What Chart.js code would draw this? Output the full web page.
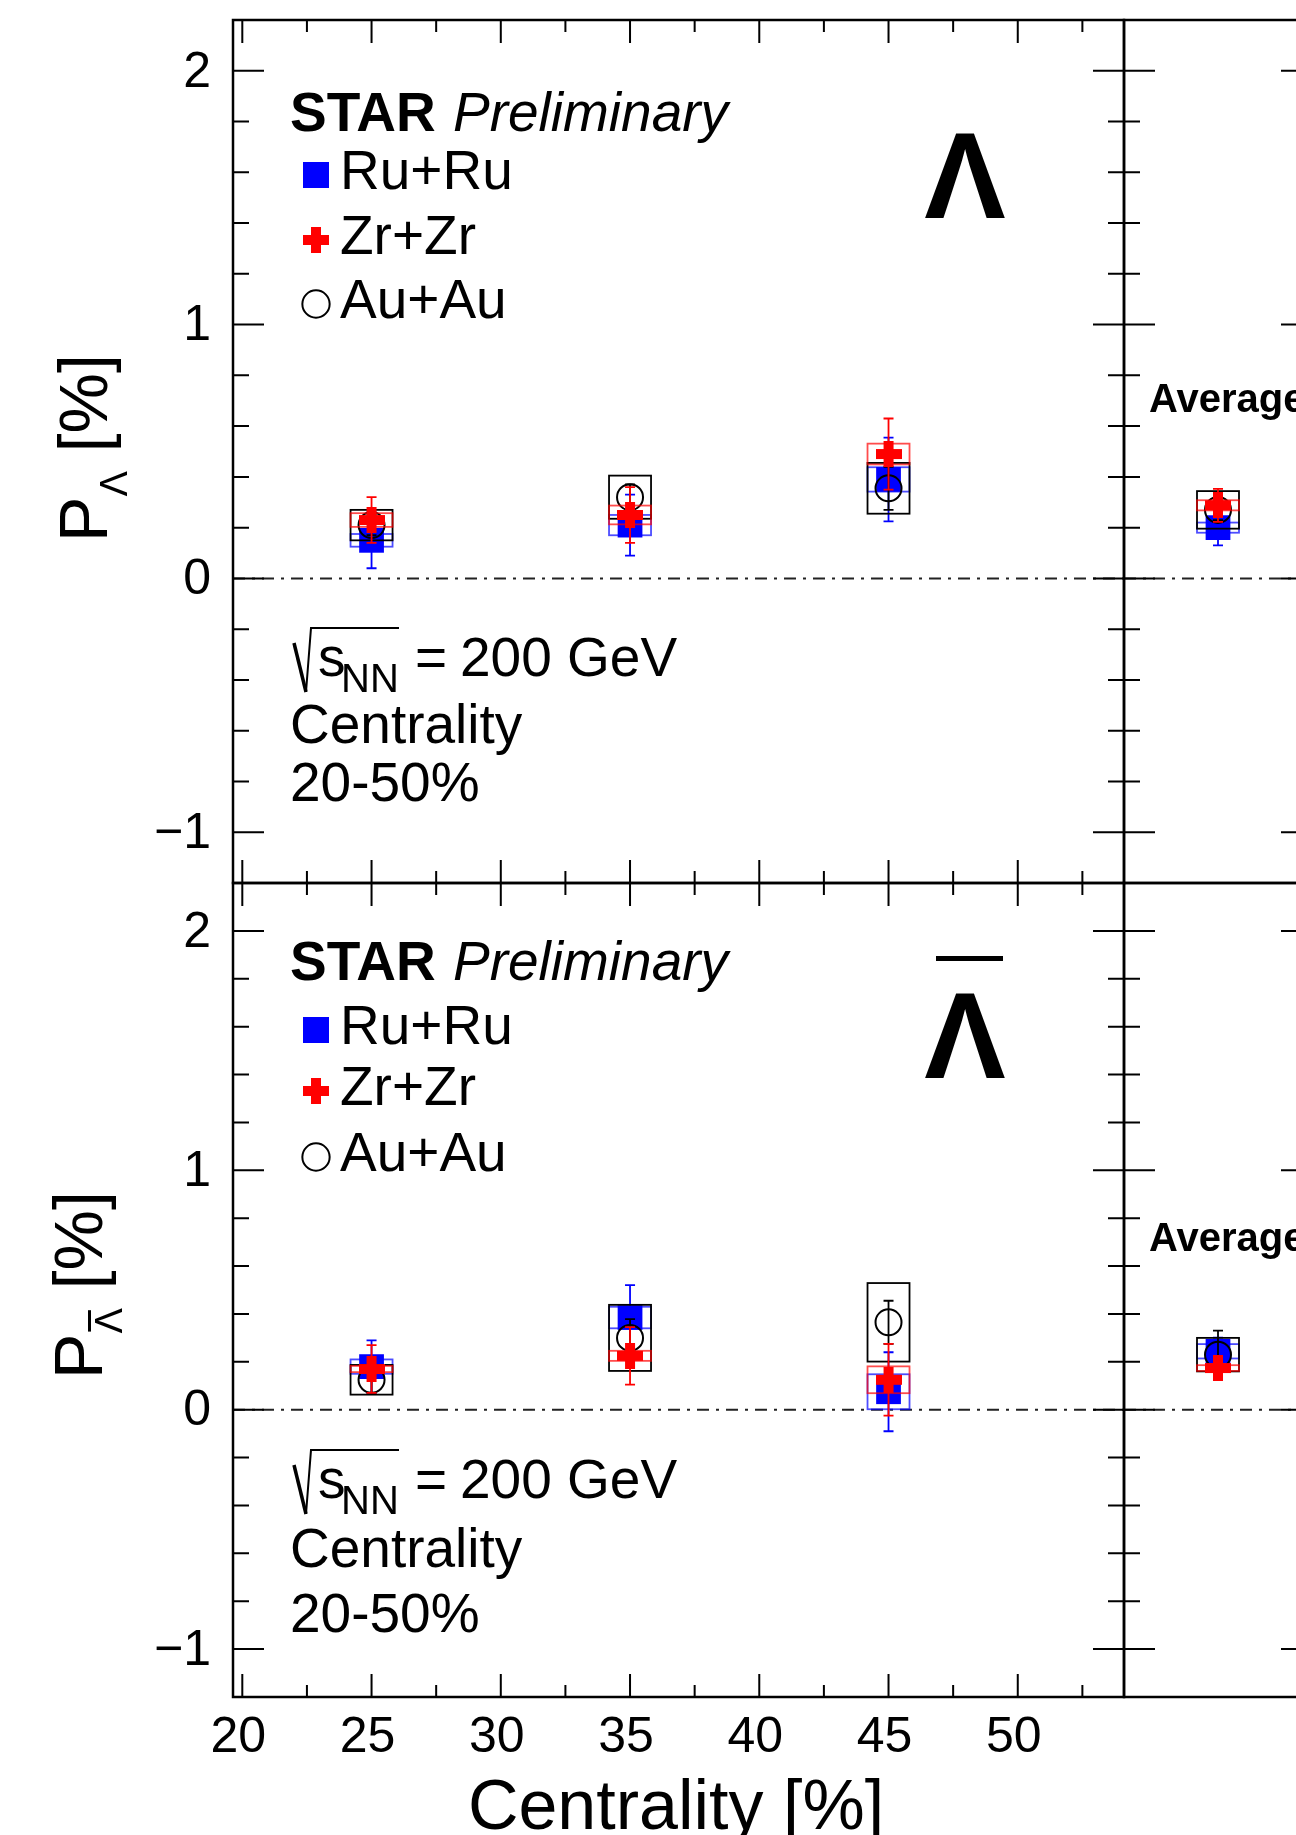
<!DOCTYPE html>
<html>
<head>
<meta charset="utf-8">
<title>Lambda polarization vs centrality</title>
<script src="https://cdn.jsdelivr.net/npm/chart.js@4.4.1/dist/chart.umd.min.js"></script>
<style>
  html, body { margin: 0; padding: 0; background: #fff; overflow: hidden; }
  body { width: 1296px; height: 1835px; position: relative; }
  canvas { position: absolute; }
</style>
</head>
<body>
<canvas id="lamLeft" width="1130" height="890" style="left:0px;top:0px"></canvas>
<canvas id="lamRight" width="200" height="890" style="left:1118px;top:0px"></canvas>
<canvas id="alamLeft" width="1130" height="959" style="left:0px;top:876px"></canvas>
<canvas id="alamRight" width="200" height="959" style="left:1118px;top:876px"></canvas>
<script>
// -- DATA -- //
const centrality = [25, 35, 45]
const systems = ['Ru+Ru', 'Zr+Zr', 'Au+Au']

const xTicks = [20, 25, 30, 35, 40, 45, 50]
const xTickLabels = ['20', '25', '30', '35', '40', '45', '50']
const yTicks = [-1, 0, 1, 2]
const yTickLabels = ['\u22121', '0', '1', '2']

// Lambda, P [%] per centrality bin: value, stat error, sys error
const lamRu     = [0.15, 0.21, 0.39]
const lamRuStat = [0.11, 0.12, 0.165]
const lamRuSys  = [0.025, 0.04, 0.048]
const lamZr     = [0.23, 0.25, 0.49]
const lamZrStat = [0.09, 0.11, 0.14]
const lamZrSys  = [0.027, 0.037, 0.041]
const lamAu     = [0.21, 0.32, 0.355]
const lamAuStat = [0.04, 0.05, 0.085]
const lamAuSys  = [0.06, 0.085, 0.1]

// anti-Lambda
const alamRu     = [0.18, 0.385, 0.075]
const alamRuStat = [0.11, 0.135, 0.165]
const alamRuSys  = [0.03, 0.045, 0.073]
const alamZr     = [0.17, 0.225, 0.125]
const alamZrStat = [0.1, 0.12, 0.15]
const alamZrSys  = [0.013, 0.021, 0.056]
const alamAu     = [0.125, 0.30, 0.365]
const alamAuStat = [0.055, 0.078, 0.09]
const alamAuSys  = [0.062, 0.138, 0.164]

// 20-50% averages, in the order of `systems`
const lamAvg      = [0.20, 0.288, 0.27]
const lamAvgStat  = [0.07, 0.065, 0.04]
const lamAvgSys   = [0.02, 0.02, 0.074]
const alamAvg     = [0.244, 0.174, 0.23]
const alamAvgStat = [0.057, 0.045, 0.1]
const alamAvgSys  = [0.03, 0.012, 0.07]

// -- STYLE -- //
const FONT = '"Liberation Sans", Arial, Helvetica, sans-serif'
const font = (size, weight, style) => `${style || 'normal'} ${weight || 'normal'} ${size}px ${FONT}`
const RED = '#ff0000', BLUE = '#0000ff', BLACK = '#000000'

// thick "+" marker like ROOT style 34
const crossImage = (size, arm, color) => {
  const c = document.createElement('canvas')
  c.width = size; c.height = size
  const g = c.getContext('2d')
  g.fillStyle = color
  const o = (size - arm) / 2
  g.fillRect(o, 0, arm, size)
  g.fillRect(0, o, size, arm)
  return c
}
const plusMark = crossImage(26, 10, RED)

const look = {
  'Ru+Ru': { pointStyle: 'rect', pointRadius: 17.5, pointBackgroundColor: BLUE, pointBorderColor: BLUE, pointBorderWidth: 0, barColor: BLUE, boxColor: 'rgba(0,0,255,0.7)' },
  'Zr+Zr': { pointStyle: plusMark, pointRadius: 13, pointBackgroundColor: RED, pointBorderColor: RED, pointBorderWidth: 0, barColor: RED, boxColor: 'rgba(255,0,0,0.7)' },
  'Au+Au': { pointStyle: 'circle', pointRadius: 13, pointBackgroundColor: 'rgba(0,0,0,0)', pointBorderColor: BLACK, pointBorderWidth: 2, barColor: BLACK, boxColor: BLACK }
}
const drawOrder = ['Zr+Zr', 'Au+Au', 'Ru+Ru'] // first one ends up on top

const makeSets = (xs, series) => drawOrder.map(name => {
  const [vals, stat, sys] = series[name]
  return Object.assign({ label: name, data: xs.map((x, i) => ({ x, y: vals[i] })), stat, sys }, look[name])
})

// -- PLUGINS -- //
// systematic boxes + stat bars, drawn right before each dataset's markers
const errors = {
  id: 'errors',
  beforeDatasetDraw(chart, args) {
    const ds = chart.data.datasets[args.index]
    const { ctx, scales: { x, y } } = chart
    ctx.save()
    ds.data.forEach((p, i) => {
      const px = x.getPixelForValue(p.x)
      const bTop = y.getPixelForValue(p.y + ds.sys[i])
      const bBot = y.getPixelForValue(p.y - ds.sys[i])
      ctx.strokeStyle = ds.boxColor
      ctx.lineWidth = 1.8
      ctx.strokeRect(px - 21, bTop, 42, bBot - bTop)
      const eTop = y.getPixelForValue(p.y + ds.stat[i])
      const eBot = y.getPixelForValue(p.y - ds.stat[i])
      ctx.strokeStyle = ds.barColor
      ctx.beginPath()
      ctx.moveTo(px, eTop); ctx.lineTo(px, eBot)
      ctx.moveTo(px - 5, eTop); ctx.lineTo(px + 5, eTop)
      ctx.moveTo(px - 5, eBot); ctx.lineTo(px + 5, eBot)
      ctx.stroke()
    })
    ctx.restore()
  }
}

// ROOT-like frame: inward ticks, dash-dot zero line, tick labels
const frame = {
  id: 'frame',
  beforeDatasetsDraw(chart) {
    const { ctx, chartArea: a, scales: { y } } = chart
    const py = y.getPixelForValue(0)
    ctx.save()
    ctx.strokeStyle = '#222'
    ctx.lineWidth = 2
    ctx.setLineDash([12, 7, 3, 7])
    ctx.beginPath(); ctx.moveTo(a.left, py); ctx.lineTo(a.right, py); ctx.stroke()
    ctx.restore()
  },
  afterDraw(chart, args, o) {
    const { ctx, chartArea: a, scales: { x, y } } = chart
    ctx.save()
    ctx.strokeStyle = '#000'
    ctx.lineWidth = 2
    ctx.beginPath()
    for (let k = Math.round(y.min * 5); k <= Math.round(y.max * 5); k++) {
      const py = y.getPixelForValue(k / 5)
      const len = (k % 5 === 0) ? 31 : 16
      ctx.moveTo(a.left, py); ctx.lineTo(a.left + len, py)
      ctx.moveTo(a.right, py); ctx.lineTo(a.right - len, py)
    }
    if (o.xAxis) {
      xTicks.forEach(t => {
        [[t, 23], [t + 2.5, 12]].forEach(([v, len]) => {
          if (v > x.max) return
          const px = x.getPixelForValue(v)
          ctx.moveTo(px, a.top); ctx.lineTo(px, a.top + len)
          ctx.moveTo(px, a.bottom); ctx.lineTo(px, a.bottom - len)
        })
      })
    }
    ctx.stroke()
    ctx.lineWidth = 2.5
    ctx.strokeRect(a.left, a.top, a.right - a.left, a.bottom - a.top)

    ctx.fillStyle = '#000'
    if (o.yLabels) {
      ctx.font = font(50); ctx.textAlign = 'right'; ctx.textBaseline = 'middle'
      yTicks.forEach((t, i) => ctx.fillText(yTickLabels[i], 211 - o.ox, y.getPixelForValue(t) + 2))
    }
    if (o.xLabels) {
      ctx.font = font(50); ctx.textAlign = 'center'; ctx.textBaseline = 'alphabetic'
      xTicks.forEach((t, i) => ctx.fillText(xTickLabels[i], x.getPixelForValue(t) - 4, 1752 - o.oy))
    }
    ctx.restore()
  }
}

// -- TEXT HELPERS (page coordinates) -- //
const legendBlock = (ctx, chart, starBase, rowBases) => {
  ctx.fillStyle = '#000'
  ctx.textAlign = 'left'; ctx.textBaseline = 'alphabetic'
  ctx.font = font(55, 'bold')
  ctx.fillText('STAR', 290, starBase)
  ctx.font = font(55, 'normal', 'italic')
  ctx.fillText('Preliminary', 453, starBase)
  systems.forEach((name, i) => {
    const ds = chart.data.datasets.find(d => d.label === name)
    ctx.save()
    ctx.fillStyle = ds.pointBackgroundColor
    ctx.strokeStyle = ds.pointBorderColor
    ctx.lineWidth = ds.pointBorderWidth
    Chart.helpers.drawPoint(ctx, { pointStyle: ds.pointStyle, radius: ds.pointRadius * 1.05, rotation: 0, borderWidth: ds.pointBorderWidth }, 316, rowBases[i] - 14)
    ctx.restore()
    ctx.font = font(55)
    ctx.fillText(name, 340, rowBases[i])
  })
}

const bigLambda = (ctx, base, bar) => {
  ctx.fillStyle = '#000'
  ctx.font = font(122, 'bold'); ctx.textAlign = 'center'
  ctx.fillText('\u039B', 965, base)
  if (bar) ctx.fillRect(936, base - 122, 67, 5)
  ctx.textAlign = 'left'
}

const energyBlock = (ctx, base, rows) => {
  ctx.strokeStyle = '#000'; ctx.fillStyle = '#000'
  ctx.lineWidth = 3.5
  ctx.beginPath(); ctx.moveTo(294, base - 33); ctx.lineTo(306, base + 16); ctx.stroke()
  ctx.lineWidth = 2
  ctx.beginPath(); ctx.moveTo(306, base + 16); ctx.lineTo(311, base - 48); ctx.lineTo(399, base - 48); ctx.stroke()
  ctx.textAlign = 'left'
  ctx.font = font(55); ctx.fillText('s', 318, base)
  ctx.font = font(40); ctx.fillText('NN', 341, base + 16)
  ctx.font = font(55)
  ctx.fillText('=', 415, base)
  ctx.fillText('200 GeV', 460, base)
  ctx.fillText('Centrality', 290, rows[0])
  ctx.fillText('20-50%', 290, rows[1])
}

const yTitle = (ctx, baseX, midY, bar) => {
  ctx.save()
  ctx.fillStyle = '#000'
  ctx.translate(baseX, midY)
  ctx.rotate(-Math.PI / 2)
  ctx.textAlign = 'left'; ctx.textBaseline = 'alphabetic'
  ctx.font = font(68); const wP = ctx.measureText('P').width
  ctx.font = font(38); const wL = ctx.measureText('\u039B').width
  ctx.font = font(68); const wR = ctx.measureText(' [%]').width
  const x0 = -(wP + wL + wR) / 2
  ctx.fillText('P', x0, 0)
  ctx.font = font(38); ctx.fillText('\u039B', x0 + wP, 20)
  if (bar) ctx.fillRect(x0 + wP + 2, 20 - 34, wL - 4, 3)
  ctx.font = font(68); ctx.fillText(' [%]', x0 + wP + wL, 0)
  ctx.restore()
}

// -- CHART FACTORY -- //
const panel = (id, xMin, xMax, xs, series, pad, ox, oy, frameOpts, drawText) => new Chart(document.getElementById(id), {
  type: 'scatter',
  data: { datasets: makeSets(xs, series) },
  options: {
    responsive: false,
    animation: false,
    events: [],
    layout: { padding: pad, autoPadding: false },
    scales: {
      x: { type: 'linear', min: xMin, max: xMax, display: false },
      y: { type: 'linear', min: -1.2, max: 2.2, display: false }
    },
    plugins: {
      legend: { display: false },
      tooltip: { enabled: false },
      frame: Object.assign({ ox, oy }, frameOpts)
    }
  },
  plugins: [frame, errors, {
    id: 'overlay',
    afterDraw(chart) {
      const ctx = chart.ctx
      ctx.save()
      ctx.translate(-ox, -oy)
      drawText(ctx, chart)
      ctx.restore()
    }
  }]
})

const avgSeries = (v, s, e) => Object.fromEntries(systems.map((n, k) => [n, [[v[k]], [s[k]], [e[k]]]]))

// top row: Lambda
panel('lamLeft', 19.64, 54.11, centrality, {
  'Ru+Ru': [lamRu, lamRuStat, lamRuSys],
  'Zr+Zr': [lamZr, lamZrStat, lamZrSys],
  'Au+Au': [lamAu, lamAuStat, lamAuSys]
}, { left: 233, top: 20, right: 6, bottom: 7 }, 0, 0, { xAxis: true, yLabels: true, xLabels: false }, (ctx, chart) => {
  legendBlock(ctx, chart, 131, [189, 254, 318])
  bigLambda(ctx, 218, false)
  energyBlock(ctx, 676, [743, 801])
  yTitle(ctx, 107, 448, false)
})

panel('lamRight', 0, 2, [1], avgSeries(lamAvg, lamAvgStat, lamAvgSys),
  { left: 6, top: 20, right: 6, bottom: 7 }, 1118, 0, { xAxis: false }, (ctx) => {
  ctx.fillStyle = '#000'; ctx.textAlign = 'left'
  ctx.font = font(40, 'bold'); ctx.fillText('Average', 1149, 412)
})

// bottom row: anti-Lambda
panel('alamLeft', 19.64, 54.11, centrality, {
  'Ru+Ru': [alamRu, alamRuStat, alamRuSys],
  'Zr+Zr': [alamZr, alamZrStat, alamZrSys],
  'Au+Au': [alamAu, alamAuStat, alamAuSys]
}, { left: 233, top: 7, right: 6, bottom: 138 }, 0, 876, { xAxis: true, yLabels: true, xLabels: true }, (ctx, chart) => {
  legendBlock(ctx, chart, 980, [1044, 1105, 1171])
  bigLambda(ctx, 1078, true)
  energyBlock(ctx, 1498, [1567, 1632])
  yTitle(ctx, 102, 1285, true)
  ctx.fillStyle = '#000'
  ctx.font = font(70); ctx.textAlign = 'center'
  ctx.fillText('Centrality [%]', 676, 1829)
})

panel('alamRight', 0, 2, [1], avgSeries(alamAvg, alamAvgStat, alamAvgSys),
  { left: 6, top: 7, right: 6, bottom: 138 }, 1118, 876, { xAxis: false }, (ctx) => {
  ctx.fillStyle = '#000'; ctx.textAlign = 'left'
  ctx.font = font(40, 'bold'); ctx.fillText('Average', 1149, 1251)
})
</script>
</body>
</html>
